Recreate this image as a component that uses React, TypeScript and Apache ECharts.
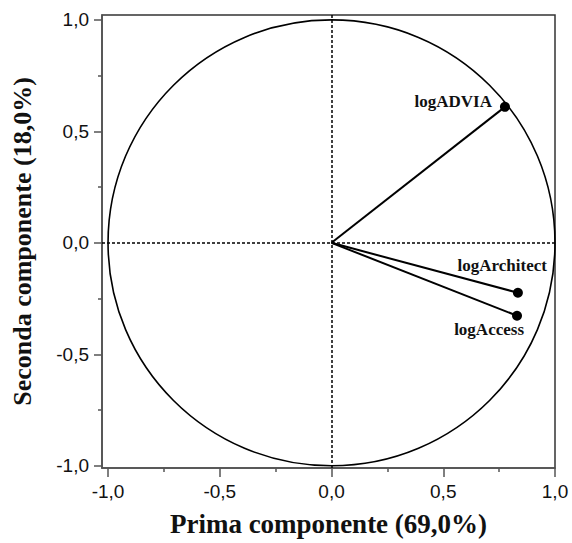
import React, { useEffect, useRef } from "react";
import * as echarts from "echarts";

const majorTicks = [-1, -0.5, 0, 0.5, 1];
const minorTicks = [-0.75, -0.25, 0.25, 0.75];
const varNames = ["logADVIA", "logArchitect", "logAccess"];
const comp1 = [0.776, 0.834, 0.83];
const comp2 = [0.61, -0.224, -0.327];
const xTitle = "Prima componente (69,0%)";
const yTitle = "Seconda componente (18,0%)";

// label offsets (px) relative to the arrow tip: [dx, dy, align]
const labelPlace: [number, number, string][] = [
  [-13, -5, "right"],
  [29, -27, "right"],
  [7, 14, "right"],
];

const fmt = (v: number) => v.toFixed(1).replace(".", ",");

export default function App() {
  const ref = useRef<HTMLDivElement>(null);
  useEffect(() => {
    if (!ref.current) return;
    const chart = echarts.init(ref.current, null, { renderer: "svg" });
    const xr = { min: -1.027, max: 1.0 };
    const yr = { min: -1.01, max: 1.022 };
    const tickFont = { fontFamily: "Liberation Sans", fontSize: 19, color: "#111" };
    const titleFont = {
      fontFamily: "Liberation Serif",
      fontWeight: "bold" as const,
      color: "#111",
    };
    const axisLineStyle = { color: "#555", width: 1.5 };
    chart.setOption({
      animation: false,
      grid: {
        left: 102,
        right: 17,
        top: 15,
        bottom: 75,
        show: true,
        borderColor: "#333",
        borderWidth: 1.5,
        backgroundColor: "transparent",
      },
      xAxis: [
        {
          type: "value",
          ...xr,
          position: "bottom",
          splitLine: { show: false },
          axisLine: { show: true, onZero: false, lineStyle: axisLineStyle },
          axisTick: { show: true, length: 9, customValues: majorTicks, lineStyle: axisLineStyle },
          axisLabel: { ...tickFont, margin: 14, customValues: majorTicks, formatter: fmt },
          name: xTitle,
          nameLocation: "middle",
          nameGap: 42,
          nameTextStyle: { ...titleFont, fontSize: 27 },
        },
        {
          type: "value",
          ...xr,
          position: "bottom",
          splitLine: { show: false },
          axisLine: { show: false, onZero: false },
          axisTick: { show: true, length: 4, customValues: minorTicks, lineStyle: axisLineStyle },
          axisLabel: { show: false },
        },
      ],
      yAxis: [
        {
          type: "value",
          ...yr,
          position: "left",
          splitLine: { show: false },
          axisLine: { show: true, onZero: false, lineStyle: axisLineStyle },
          axisTick: { show: true, length: 8, customValues: majorTicks, lineStyle: axisLineStyle },
          axisLabel: { ...tickFont, margin: 13, customValues: majorTicks, formatter: fmt },
          name: yTitle,
          nameLocation: "middle",
          nameGap: 67,
          nameTextStyle: { ...titleFont, fontSize: 26 },
        },
        {
          type: "value",
          ...yr,
          position: "left",
          splitLine: { show: false },
          axisLine: { show: false, onZero: false },
          axisTick: { show: true, length: 4, customValues: minorTicks, lineStyle: axisLineStyle },
          axisLabel: { show: false },
        },
      ],
      series: [
        {
          type: "line",
          data: [],
          silent: true,
          markLine: {
            silent: true,
            symbol: "none",
            label: { show: false },
            lineStyle: { type: [3, 2], color: "#000", width: 1.5 },
            data: [{ xAxis: 0 }, { yAxis: 0 }],
          },
        },
        {
          type: "custom",
          clip: false,
          silent: true,
          data: [[0, 0, 1]],
          renderItem: (_p: any, api: any) => {
            const c = api.coord([api.value(0), api.value(1)]);
            const r = api.value(2);
            const ex = api.coord([r, 0]);
            const ey = api.coord([0, r]);
            return {
              type: "ellipse",
              shape: { cx: c[0], cy: c[1], rx: ex[0] - c[0], ry: c[1] - ey[1] },
              style: { fill: "none", stroke: "#000", lineWidth: 1.6 },
            };
          },
        },
        {
          type: "custom",
          clip: false,
          silent: true,
          data: varNames.map((n, i) => [comp1[i], comp2[i], i]),
          renderItem: (_p: any, api: any) => {
            const i = api.value(2);
            const o = api.coord([0, 0]);
            const p = api.coord([api.value(0), api.value(1)]);
            const [dx, dy, align] = labelPlace[i];
            return {
              type: "group",
              children: [
                {
                  type: "line",
                  shape: { x1: o[0], y1: o[1], x2: p[0], y2: p[1] },
                  style: { stroke: "#000", lineWidth: 2 },
                },
                {
                  type: "circle",
                  shape: { cx: p[0], cy: p[1], r: 5 },
                  style: { fill: "#000" },
                },
                {
                  type: "text",
                  style: {
                    text: varNames[i],
                    x: p[0] + dx,
                    y: p[1] + dy,
                    align,
                    verticalAlign: "middle",
                    fontFamily: "Liberation Serif",
                    fontWeight: "bold",
                    fontSize: 17,
                    fill: "#111",
                  },
                },
              ],
            };
          },
        },
      ],
    });
    return () => chart.dispose();
  }, []);
  return <div ref={ref} style={{ width: 572, height: 543, position: "absolute", left: 0, top: 0 }} />;
}
